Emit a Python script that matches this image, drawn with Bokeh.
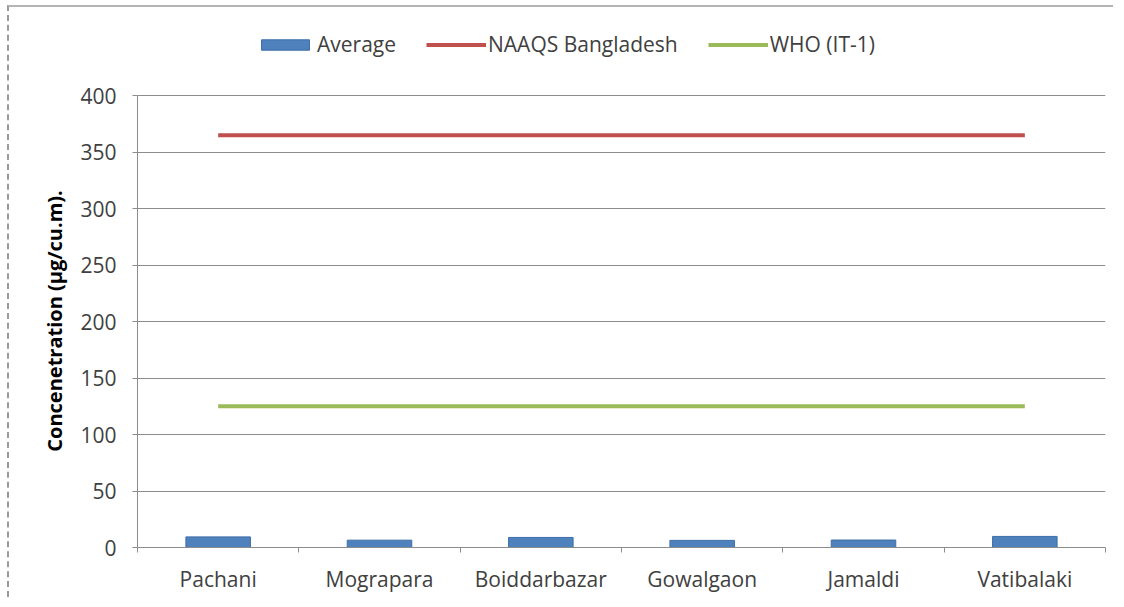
from bokeh.plotting import figure
from bokeh.models import Legend, LegendItem, FixedTicker, ColumnDataSource, Range1d
from bokeh.embed import file_html
from bokeh.resources import INLINE

sites = ["Pachani", "Mograpara", "Boiddarbazar", "Gowalgaon", "Jamaldi", "Vatibalaki"]
average = [9.4, 6.5, 8.9, 6.3, 6.6, 9.8]
naaqs = [365, 365, 365, 365, 365, 365]
who_it1 = [125, 125, 125, 125, 125, 125]
y_ticks = [0, 50, 100, 150, 200, 250, 300, 350, 400]

xpos = [i + 0.5 for i in range(len(sites))]
src = ColumnDataSource(dict(x=xpos, avg=average, naaqs=naaqs, who=who_it1))

FONT = "Open Sans"
TXT = "#404040"
GRID = "#8c8c8c"

p = figure(frame_width=968, frame_height=531, output_backend="svg", toolbar_location=None,
           x_range=Range1d(0, len(sites)), y_range=Range1d(0, 470),
           min_border_left=128, min_border_right=8, min_border_bottom=50, min_border_top=9,
           background_fill_color="white", border_fill_color="white",
           styles={"border-top": "2px solid #b4b4b4", "border-left": "2px dashed #9a9a9a",
                   "margin-left": "7px", "margin-top": "5px"})
p.outline_line_color = None

bars = p.vbar(x="x", top="avg", width=0.4, bottom=0, source=src,
              fill_color="#4F81BD", line_color="#3c6ea8", line_width=1)
l1 = p.line(x="x", y="naaqs", source=src, line_color="#C0504D", line_width=4)
l2 = p.line(x="x", y="who", source=src, line_color="#9BBB59", line_width=4)

# x axis
p.xaxis.ticker = FixedTicker(ticks=xpos, minor_ticks=list(range(len(sites) + 1)))
p.xaxis.major_label_overrides = {x: s for x, s in zip(xpos, sites)}
p.xaxis.major_tick_line_color = None
p.xaxis.minor_tick_line_color = GRID
p.xaxis.minor_tick_out = 5
p.xaxis.minor_tick_in = 0
p.xaxis.axis_line_color = GRID
p.xaxis.major_label_text_font = FONT
p.xaxis.major_label_text_font_size = "21px"
p.xaxis.major_label_text_color = TXT
p.xaxis.major_label_standoff = 11

# y axis
p.yaxis.bounds = (0, 400)
p.yaxis.ticker = FixedTicker(ticks=y_ticks)
p.yaxis.minor_tick_line_color = None
p.yaxis.major_tick_line_color = GRID
p.yaxis.major_tick_out = 5
p.yaxis.major_tick_in = 0
p.yaxis.axis_line_color = GRID
p.yaxis.major_label_text_font = FONT
p.yaxis.major_label_text_font_size = "21px"
p.yaxis.major_label_text_color = TXT
p.yaxis.major_label_standoff = 16
p.yaxis.axis_label = "Concenetration (µg/cu.m)." + "\u00a0" * 15
p.yaxis.axis_label_text_font = FONT
p.yaxis.axis_label_text_font_size = "20px"
p.yaxis.axis_label_text_font_style = "bold"
p.yaxis.axis_label_text_color = "#000000"
p.yaxis.axis_label_standoff = 9

p.xgrid.grid_line_color = None
p.ygrid.grid_line_color = GRID
p.ygrid.grid_line_width = 1
p.ygrid.bounds = (0, 400)

legend = Legend(items=[
    LegendItem(label="Average", renderers=[bars]),
    LegendItem(label="NAAQS Bangladesh", renderers=[l1]),
    LegendItem(label="WHO (IT-1)", renderers=[l2]),
], orientation="horizontal", location=(118, 489),
    label_text_font=FONT, label_text_font_size="21px", label_text_color=TXT,
    glyph_width=60, glyph_height=13, spacing=30, label_standoff=2,
    border_line_color=None, background_fill_alpha=0, margin=0, padding=0)
p.add_layout(legend, "center")

html = file_html(p, INLINE)
open("out.html", "w").write(html)
